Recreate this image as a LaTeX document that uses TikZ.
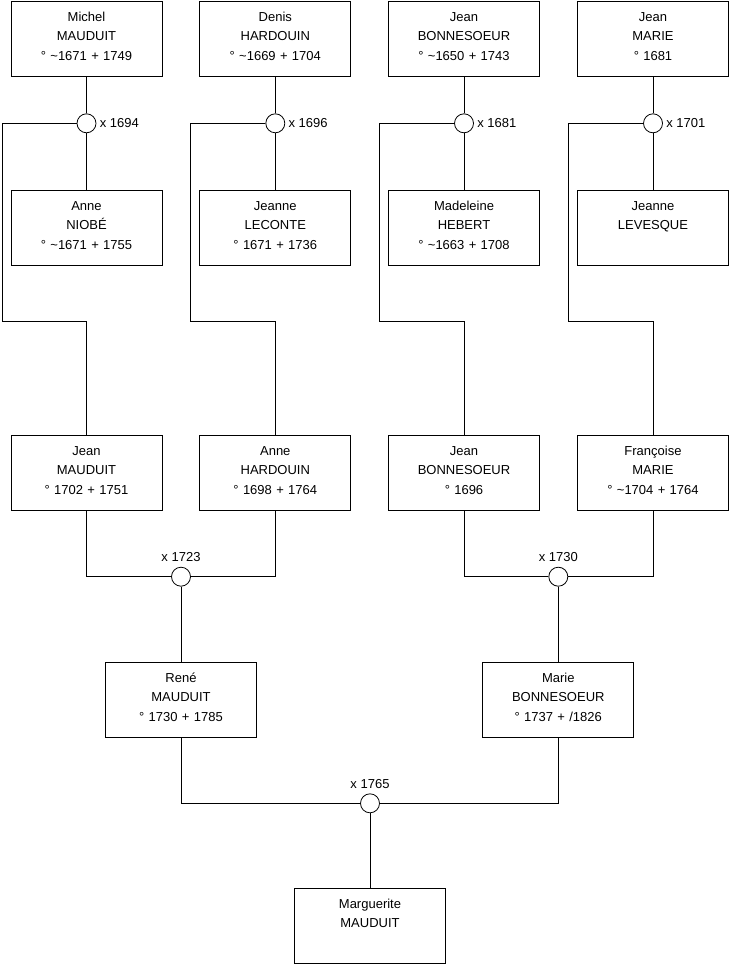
\documentclass[tikz,border=0pt]{standalone}
\usepackage{fontspec}
\setmainfont{Liberation Sans}

\begin{document}
\begin{tikzpicture}[x=1pt, y=-1pt, line width=0.8pt,
    font=\fontsize{13}{19.5}\selectfont,
    person/.style={draw, text width=151pt, align=center, inner xsep=0pt,
      inner ysep=0pt, text height=20pt, text depth=55pt},
    wed/.style={draw, circle, fill=white, minimum size=19pt, inner sep=0pt},
    every label/.style={inner sep=2pt}]

    \useasboundingbox (0,0) rectangle (740,975);

    % Top row
    \node[person] (michel) at (86.5,38.5) {Michel\\MAUDUIT\\° \textasciitilde1671 + 1749};
    \node[person] (denis) at (275.3,38.5) {Denis\\HARDOUIN\\° \textasciitilde1669 + 1704};
    \node[person] (jeanB) at (464,38.5) {Jean\\BONNESOEUR\\° \textasciitilde1650 + 1743};
    \node[person] (jeanM) at (653,38.5) {Jean\\MARIE\\° 1681};

    % Their wives
    \node[person] (anne) at (86.5,227.5) {Anne\\NIOBÉ\\° \textasciitilde1671 + 1755};
    \node[person] (jeanne) at (275.3,227.5) {Jeanne\\LECONTE\\° 1671 + 1736};
    \node[person] (madeleine) at (464,227.5) {Madeleine\\HEBERT\\° \textasciitilde1663 + 1708};
    \node[person] (jeanneL) at (653,227.5) {Jeanne\\LEVESQUE};

    % Marriages, first generation
    \node[wed, label={[label distance=1pt]right:x 1694}] (w1694) at (86.5,123.3) {};
    \node[wed, label={[label distance=1pt]right:x 1696}] (w1696) at (275.3,123.3) {};
    \node[wed, label={[label distance=1pt]right:x 1681}] (w1681) at (464,123.3) {};
    \node[wed, label={[label distance=1pt]right:x 1701}] (w1701) at (653,123.3) {};

    % Children
    \node[person] (jean) at (86.5,472.5) {Jean\\MAUDUIT\\° 1702 + 1751};
    \node[person] (anneH) at (275.3,472.5) {Anne\\HARDOUIN\\° 1698 + 1764};
    \node[person] (jeanBo) at (464,472.5) {Jean\\BONNESOEUR\\° 1696};
    \node[person] (francoise) at (653,472.5) {Françoise\\MARIE\\° \textasciitilde1704 + 1764};

    \coordinate (k1) at (2,321.5);
    \coordinate (k2) at (190.8,321.5);
    \coordinate (k3) at (379.5,321.5);
    \coordinate (k4) at (568.5,321.5);

    \draw (michel) -- (w1694) -- (anne);
    \draw (denis) -- (w1696) -- (jeanne);
    \draw (jeanB) -- (w1681) -- (madeleine);
    \draw (jeanM) -- (w1701) -- (jeanneL);

    \draw (w1694) -| (k1) -| (jean);
    \draw (w1696) -| (k2) -| (anneH);
    \draw (w1681) -| (k3) -| (jeanBo);
    \draw (w1701) -| (k4) -| (francoise);

    % Second generation
    \node[wed, label={[label distance=2.5pt]above:x 1723}] (w1723) at (181,576.7) {};
    \node[wed, label={[label distance=2.5pt]above:x 1730}] (w1730) at (558.3,576.7) {};

    \node[person] (rene) at (181,699.5) {René\\MAUDUIT\\° 1730 + 1785};
    \node[person] (marie) at (558.3,699.5) {Marie\\BONNESOEUR\\° 1737 + /1826};

    \draw (jean) |- (w1723) -| (anneH);
    \draw (jeanBo) |- (w1730) -| (francoise);
    \draw (w1723) -- (rene);
    \draw (w1730) -- (marie);

    % Last generation
    \node[wed, label={[label distance=2.5pt]above:x 1765}] (w1765) at (370,803.3) {};
    \node[person] (marguerite) at (370,925.5) {Marguerite\\MAUDUIT};

    \draw (rene) |- (w1765) -| (marie);
    \draw (w1765) -- (marguerite);

\end{tikzpicture}
\end{document}
